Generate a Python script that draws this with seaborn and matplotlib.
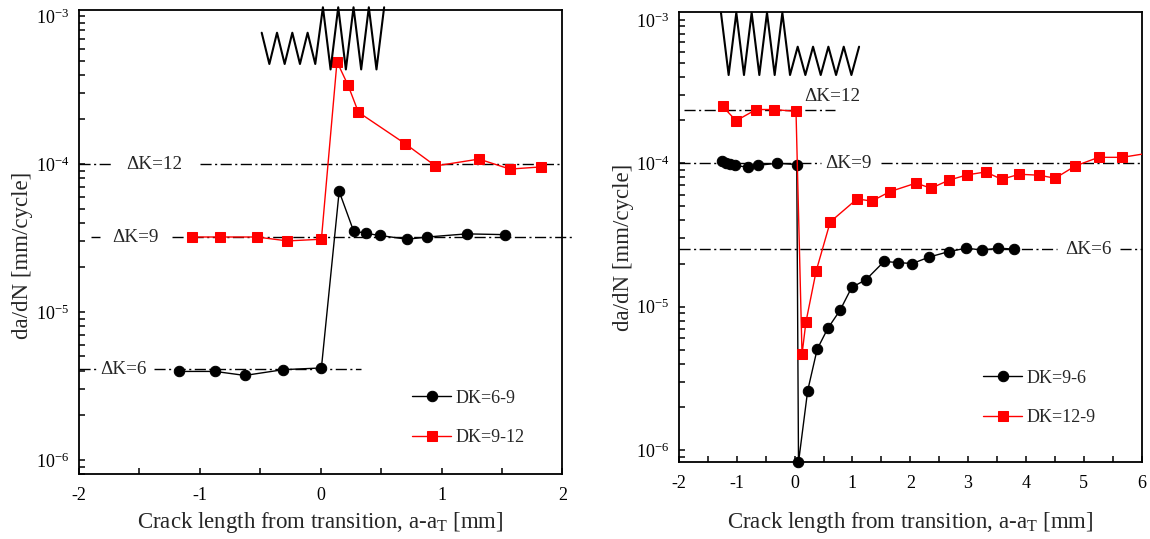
import numpy as np
import matplotlib
matplotlib.use("Agg")
import matplotlib.pyplot as plt
import seaborn as sns
from matplotlib.ticker import MultipleLocator, LogLocator, NullFormatter

# ---- data: crack growth rate after a load step ----
# left panel: step-up tests
up_69_x = [-1.17, -0.875, -0.627, -0.31, 0.006, 0.153, 0.272, 0.373, 0.487, 0.716, 0.884, 1.208, 1.527]
up_69_y = [3.96e-6, 3.96e-6, 3.72e-6, 4.07e-6, 4.18e-6, 6.53e-5, 3.53e-5, 3.40e-5, 3.29e-5,
           3.10e-5, 3.21e-5, 3.37e-5, 3.33e-5]
up_912_x = [-1.067, -0.83, -0.53, -0.275, 0.006, 0.135, 0.227, 0.312, 0.70, 0.95, 1.31, 1.566, 1.82]
up_912_y = [3.21e-5, 3.21e-5, 3.21e-5, 3.02e-5, 3.10e-5, 4.91e-4, 3.40e-4, 2.24e-4, 1.37e-4,
            9.7e-5, 1.08e-4, 9.24e-5, 9.55e-5]

# right panel: step-down tests
down_96_x = [-1.256, -1.183, -1.116, -1.024, -0.799, -0.628, -0.299, 0.037, 0.067, 0.226, 0.39,
             0.573, 0.787, 0.988, 1.232, 1.549, 1.78, 2.037, 2.329, 2.665, 2.97, 3.244, 3.518, 3.793]
down_96_y = [1.04e-4, 1.005e-4, 9.9e-5, 9.68e-5, 9.35e-5, 9.68e-5, 1.0e-4, 9.8e-5, 8.2e-7, 2.60e-6,
             5.05e-6, 7.05e-6, 9.46e-6, 1.365e-5, 1.54e-5, 2.07e-5, 2.03e-5, 2.0e-5, 2.22e-5, 2.42e-5,
             2.56e-5, 2.48e-5, 2.56e-5, 2.52e-5]
down_129_x = [-1.244, -1.012, -0.665, -0.36, 0.024, 0.128, 0.195, 0.372, 0.616, 1.079, 1.335, 1.652,
              2.098, 2.36, 2.665, 2.982, 3.305, 3.579, 3.884, 4.22, 4.506, 4.854, 5.256, 5.665, 6.25]
down_129_y = [2.49e-4, 1.98e-4, 2.37e-4, 2.37e-4, 2.30e-4, 4.65e-6, 7.79e-6, 1.77e-5, 3.90e-5,
              5.64e-5, 5.45e-5, 6.35e-5, 7.27e-5, 6.70e-5, 7.62e-5, 8.30e-5, 8.70e-5, 7.73e-5,
              8.38e-5, 8.26e-5, 7.87e-5, 9.58e-5, 1.10e-4, 1.10e-4, 1.2e-4]

# constant-amplitude reference rates
ref_labels_left = ["\u0394K=12", "\u0394K=9", "\u0394K=6"]
ref_rates_left = [1.0e-4, 3.2e-5, 4.1e-6]
ref_labels_right = ["\u0394K=12", "\u0394K=9", "\u0394K=6"]
ref_rates_right = [2.37e-4, 1.0e-4, 2.52e-5]

legend_left = ["DK=6-9", "DK=9-12"]
legend_right = ["DK=9-6", "DK=12-9"]

# ---- style ----
sns.set_style("ticks")
plt.rcParams["font.family"] = ["Liberation Serif", "DejaVu Serif"]
plt.rcParams["mathtext.fontset"] = "custom"
plt.rcParams["mathtext.rm"] = "Liberation Serif"
plt.rcParams["mathtext.it"] = "Liberation Serif:italic"
plt.rcParams["axes.unicode_minus"] = False

RED = "#ff0000"
DASHDOT = (0, (8, 2.5, 1.5, 2.5))

fig = plt.figure(figsize=(11.5, 5.39), dpi=100)
axL = fig.add_axes([0.0687, 0.1197, 0.4203, 0.8618])
axR = fig.add_axes([0.5904, 0.1423, 0.4023, 0.836])


def style_axes(ax, xlim, ylim, xlabel_y, ylabel_xy):
    ax.set_yscale("log")
    ax.set_xlim(*xlim)
    ax.set_ylim(*ylim)
    ax.xaxis.set_major_locator(MultipleLocator(1))
    ax.xaxis.set_minor_locator(MultipleLocator(0.5))
    ax.yaxis.set_major_locator(LogLocator(base=10))
    ax.yaxis.set_minor_locator(LogLocator(base=10, subs=np.arange(2, 10)))
    ax.yaxis.set_minor_formatter(NullFormatter())
    ax.tick_params(which="both", direction="in", length=4, width=1.1,
                   top=False, right=False, labelsize=13, colors="black")
    ax.tick_params(axis="x", which="both", pad=9)
    ax.tick_params(axis="y", which="both", pad=7)
    for s in ax.spines.values():
        s.set_linewidth(1.3)
        s.set_color("black")
    ax.set_xlabel("Crack length from transition, a-a$_\\mathrm{T}$ [mm]", fontsize=16.5)
    ax.set_ylabel("da/dN [mm/cycle]", fontsize=16.5)
    ax.xaxis.set_label_coords(0.5, xlabel_y)
    ax.xaxis.label.set_verticalalignment("center")
    ax.yaxis.set_label_coords(*ylabel_xy)
    ax.yaxis.label.set_verticalalignment("center")
    ax.grid(False)


def ref_line(ax, rate, label, segs, text_x, text_dy=0):
    for x0, x1 in segs:
        ax.plot([x0, x1], [rate, rate], color="black", lw=1.0, ls=DASHDOT,
                zorder=1, clip_on=False)
    ax.annotate(label, (text_x, rate), xytext=(0, text_dy), textcoords="offset points",
                ha="center", va="center", fontsize=13.8, zorder=2)


def zigzag(ax, x0, period, n_first, n_second, y_first, y_second, y_low, first_low=None):
    """Load-history sketch: two blocks of constant-amplitude cycles, in axes fraction."""
    xs, ys = [], []
    for k in range(n_first):
        xs.append(x0 + k * period)
        ys.append(y_first)
        xs.append(x0 + (k + 0.5) * period)
        ys.append(y_low if first_low is None else first_low)
    for k in range(n_second):
        xs.append(x0 + (n_first + k) * period)
        ys.append(y_second)
        if k < n_second - 1:
            xs.append(x0 + (n_first + k + 0.5) * period)
            ys.append(y_low)
    ax.plot(xs, ys, color="black", lw=1.5, transform=ax.transAxes, clip_on=False, zorder=4)


# ---- left panel ----
style_axes(axL, (-2, 2), (7.96e-7, 1.10e-3), -0.1044, (-0.1159, 0.4726))
ref_line(axL, ref_rates_left[0], ref_labels_left[0], [(-2, -1.733), (-1.0, 2.0)], -1.374)
ref_line(axL, ref_rates_left[1], ref_labels_left[1], [(-1.902, -1.825), (-1.229, 2.077)], -1.534)
ref_line(axL, ref_rates_left[2], ref_labels_left[2], [(-2, -1.85), (-1.382, 0.332)], -1.634)

sns.lineplot(x=up_69_x, y=up_69_y, ax=axL, color="black", marker="o", markersize=7.5,
             markeredgecolor="black", linewidth=1.0, estimator=None, sort=False,
             label=legend_left[0], zorder=3)
sns.lineplot(x=up_912_x, y=up_912_y, ax=axL, color=RED, marker="s", markersize=7.5,
             markeredgecolor=RED, linewidth=1.0, estimator=None, sort=False,
             label=legend_left[1], zorder=3)
zigzag(axL, 0.378, 0.03166, 4, 5, 0.951, 1.0058, 0.872, first_low=0.8837)

# ---- right panel ----
style_axes(axR, (-2, 6), (8.22e-7, 1.14e-3), -0.1347, (-0.1202, 0.4778))
ref_line(axR, ref_rates_right[0], ref_labels_right[0], [(-1.915, 0.695)], 0.643, text_dy=9.6)
ref_line(axR, ref_rates_right[1], ref_labels_right[1], [(-2, 0.451), (1.488, 6)], 0.93)
ref_line(axR, ref_rates_right[2], ref_labels_right[2], [(-2, 4.537), (5.634, 6)], 5.076)

sns.lineplot(x=down_96_x, y=down_96_y, ax=axR, color="black", marker="o", markersize=7.5,
             markeredgecolor="black", linewidth=1.0, estimator=None, sort=False,
             label=legend_right[0], zorder=3)
axR.lines[-1].set_clip_on(False)
sns.lineplot(x=down_129_x, y=down_129_y, ax=axR, color=RED, marker="s", markersize=7.5,
             markeredgecolor=RED, linewidth=1.0, estimator=None, sort=False,
             label=legend_right[1], zorder=3)
zigzag(axR, 0.0908, 0.03317, 5, 5, 0.9978, 0.9223, 0.8595)

for ax, anchor in ((axL, (0.6896, 0.1219)), (axR, (0.6577, 0.1427))):
    ax.legend(loc="center left", bbox_to_anchor=anchor, frameon=False, fontsize=13,
              handlelength=2.15, handletextpad=0.25, labelspacing=1.25,
              borderpad=0, borderaxespad=0)

fig.savefig("out.png", dpi=100)
